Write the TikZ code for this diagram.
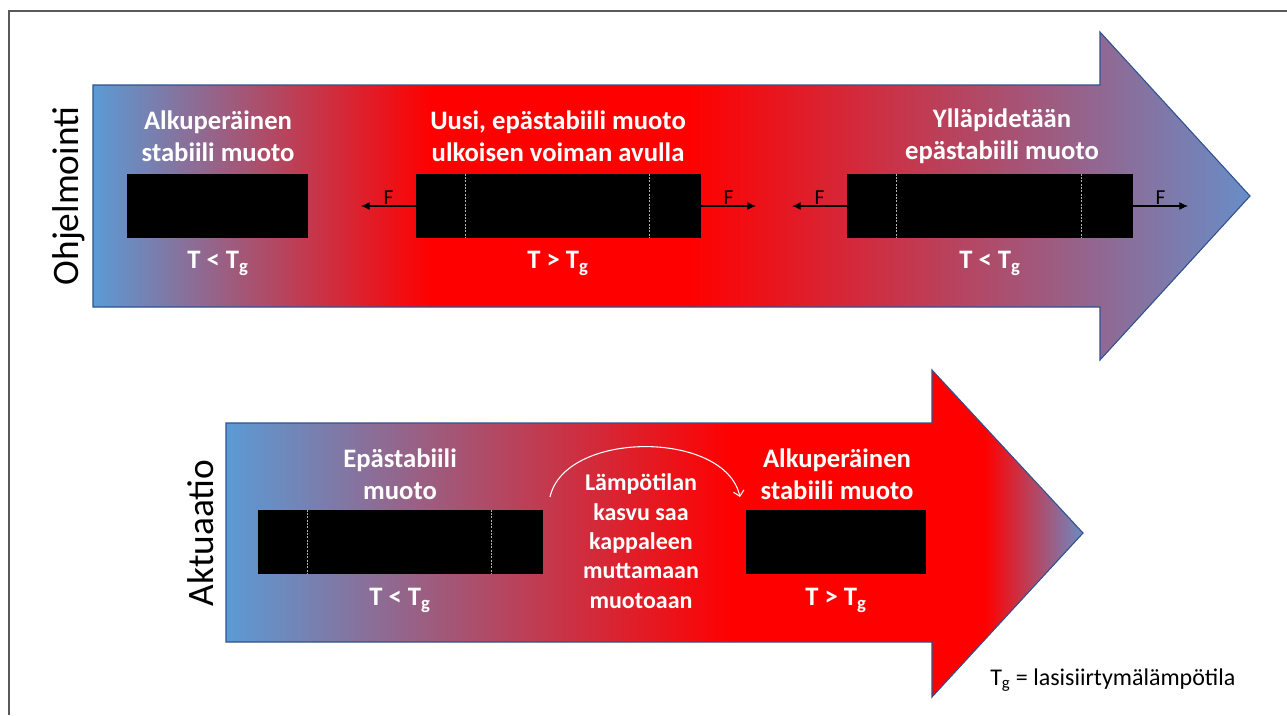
\documentclass[tikz,border=0pt]{standalone}
\usepackage{fontspec}
\setmainfont{Carlito}
\usetikzlibrary{arrows.meta,positioning}
\definecolor{coolblue}{RGB}{91,155,213}
\definecolor{tipblue}{RGB}{104,142,200}
\definecolor{hotred}{RGB}{255,0,0}
\definecolor{edgeblue}{RGB}{47,82,143}
\begin{document}
\begin{tikzpicture}[x=0.75pt,y=-0.75pt,
  bar/.style={fill=black,inner sep=0pt,minimum height=48pt,minimum width=#1*0.75pt},
  seam/.style={draw=white!70!black,dash pattern=on 1.5pt off 1pt,line width=0.5pt},
  force/.style={-{Latex[length=6.5pt,width=6pt]},line width=0.8pt},
  flabel/.style={above,inner sep=1pt,font=\fontsize{16}{18}\selectfont},
  head/.style={text=white,align=center,inner sep=0pt,font=\bfseries\fontsize{20}{24}\selectfont},
  temp/.style={text=white,anchor=base,inner sep=0pt,font=\bfseries\fontsize{20}{24}\selectfont},
  side/.style={rotate=90,inner sep=0pt,font=\fontsize{28}{32}\selectfont}]
\useasboundingbox (0,0) rectangle (1287,715);
\draw[black!65,line width=0.9pt] (1287,11) -- (9,11) -- (9,715);
% upper arrow
\begin{scope}
  \clip (93,85) -- (1100,85) -- (1100,32) -- (1250,196) -- (1100,360) -- (1100,307) -- (93,307) -- cycle;
  \shade[left color=coolblue,right color=hotred] (92,30) rectangle (431,362);
  \fill[hotred] (430,30) rectangle (691,362);
  \shade[left color=hotred,right color=tipblue] (690,30) rectangle (1252,362);
\end{scope}
\draw[edgeblue,line width=0.8pt] (93,85) -- (1100,85) -- (1100,32) -- (1250,196) -- (1100,360) -- (1100,307) -- (93,307) -- cycle;
% lower arrow
\begin{scope}
  \clip (226,423) -- (932,423) -- (932,370) -- (1083,533) -- (932,697) -- (932,642) -- (226,642) -- cycle;
  \shade[left color=coolblue,right color=hotred] (225,368) rectangle (731,699);
  \fill[hotred] (730,368) rectangle (986,699);
  \shade[left color=hotred,right color=tipblue] (985,368) rectangle (1085,699);
\end{scope}
\draw[edgeblue,line width=0.8pt] (226,423) -- (932,423) -- (932,370) -- (1083,533) -- (932,697) -- (932,642) -- (226,642) -- cycle;

\node[side] (prog) at (69,196) {Ohjelmointi};
\node[side] (act) at (201,533) {Aktuaatio};

\node[bar=181] (up1) at (217.5,206) {};
\node[bar=285] (up2) at (558.5,206) {};
\node[bar=286] (up3) at (990,206) {};
\node[bar=285] (lo1) at (400.5,542) {};
\node[bar=180] (lo2) at (836,542) {};
\foreach \b in {up2,up3,lo1}{
  \draw[seam] ([xshift=37.5pt]\b.north west) -- ([xshift=37.5pt]\b.south west);
  \draw[seam] ([xshift=-39pt]\b.north east) -- ([xshift=-39pt]\b.south east);
}
\foreach \b in {up2,up3}{
  \coordinate[left=41pt of \b] (\b-l);
  \coordinate[right=41pt of \b] (\b-r);
  \draw[force] (\b.west) -- node[flabel]{F} (\b-l);
  \draw[force] (\b.east) -- node[flabel]{F} (\b-r);
}

\node[head] (h1) at (218,136) {Alkuperäinen\\stabiili muoto};
\node[head] (h2) at (558,136) {Uusi, epästabiili muoto\\ulkoisen voiman avulla};
\node[head] (h3) at (1002,136) {Ylläpidetään\\epästabiili muoto};
\node[head] (h4) at (400,474) {Epästabiili\\muoto};
\node[head] (h5) at (837,474) {Alkuperäinen\\stabiili muoto};
\node[temp] (t1) at (218,268) {T < T\textsubscript{g}};
\node[temp] (t2) at (558,268) {T > T\textsubscript{g}};
\node[temp] (t3) at (990,268) {T < T\textsubscript{g}};
\node[temp] (t4) at (400,605) {T < T\textsubscript{g}};
\node[temp] (t5) at (836,605) {T > T\textsubscript{g}};

\node[head,font=\bfseries\fontsize{18}{22}\selectfont] (mid) at (641,541) {Lämpötilan\\kasvu saa\\kappaleen\\muttamaan\\muotoaan};
\coordinate (c1) at (550,497);
\coordinate (c2) at (740,497);
\draw[white,line width=0.8pt,-{Straight Barb[length=4pt]}] (c1) .. controls (565,430) and (725,430) .. (c2);

\node[anchor=base west,inner sep=0pt,font=\fontsize{18}{21}\selectfont] (key) at (990,685) {T\textsubscript{g} = lasisiirtymälämpötila};
\end{tikzpicture}
\end{document}
